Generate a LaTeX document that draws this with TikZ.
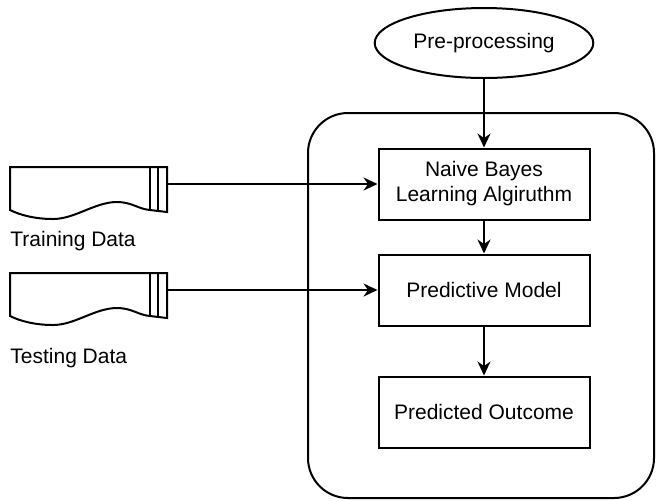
\documentclass[tikz,border=0pt]{standalone}
\usepackage{fontspec}
\setmainfont{Liberation Sans}
\usetikzlibrary{arrows.meta,shapes.geometric}

\tikzset{
  flowline/.style={line width=1pt,-{Stealth[length=7pt,width=6.5pt]}},
  stepbox/.style={draw,line width=1pt,minimum width=105.5pt,minimum height=35.5pt,align=center,font=\fontsize{10.5}{12.5}\selectfont},
  prepnode/.style={draw,ellipse,line width=1pt,minimum width=106pt,minimum height=35pt,font=\fontsize{10.5}{12}\selectfont},
  datalabel/.style={anchor=west,inner sep=0pt,font=\fontsize{10.5}{12}\selectfont}
}

% data tape with a wavy bottom and three lines on its right end
\newcommand{\datatape}[2]{%
\begin{scope}[shift={(#1,#2)}]
\draw[line width=1pt,fill=white] (0.000000,0.000000) -- (157.000000,0.000000) -- (157.000000,45.000000)
  -- (140.000000,43.000000) .. controls (128.000000,42.000000) and (122.000000,35.000000) .. (107.000000,35.000000)
  .. controls (85.000000,35.000000) and (65.000000,52.000000) .. (43.000000,52.000000)
  .. controls (25.000000,52.000000) and (10.000000,48.000000) .. (0.000000,43.000000) -- cycle;
\draw[line width=1pt] (140.000000,0.000000) -- (140.000000,43.000000);
\draw[line width=1pt] (148.000000,0.000000) -- (148.000000,44.000000);
\end{scope}}

\begin{document}
\begin{tikzpicture}[x=0.5pt,y=-0.5pt]
\useasboundingbox[fill=white] (0.000000,0.000000) rectangle (656.000000,500.000000);
% Drawing the container
\draw[line width=1pt,rounded corners=20pt] (308.000000,113.000000) rectangle (654.000000,498.000000);
% Drawing the steps
\node[prepnode] (prep) at (484.000000,43.000000) {Pre-processing};
\node[stepbox] (nb) at (484.000000,184.000000) {Naive Bayes\\Learning Algiruthm};
\node[stepbox] (pm) at (484.000000,290.000000) {Predictive Model};
\node[stepbox] (po) at (484.000000,412.000000) {Predicted Outcome};
% Drawing the data inputs
\datatape{10.000000}{167.000000}
\coordinate (trainout) at (167.000000,184.000000);
\node[datalabel] (trainlbl) at (10.000000,241.000000) {Training Data};
\datatape{10.000000}{273.000000}
\coordinate (testout) at (167.000000,290.000000);
\node[datalabel] (testlbl) at (10.000000,358.000000) {Testing Data};
% Done with shapes; drawing arrows
\draw[flowline] (prep.south) -- (nb.north);
\draw[flowline] (nb.south) -- (pm.north);
\draw[flowline] (pm.south) -- (po.north);
\draw[flowline] (trainout) -- (nb.west);
\draw[flowline] (testout) -- (pm.west);
% Done with arrows
\end{tikzpicture}
\end{document}
